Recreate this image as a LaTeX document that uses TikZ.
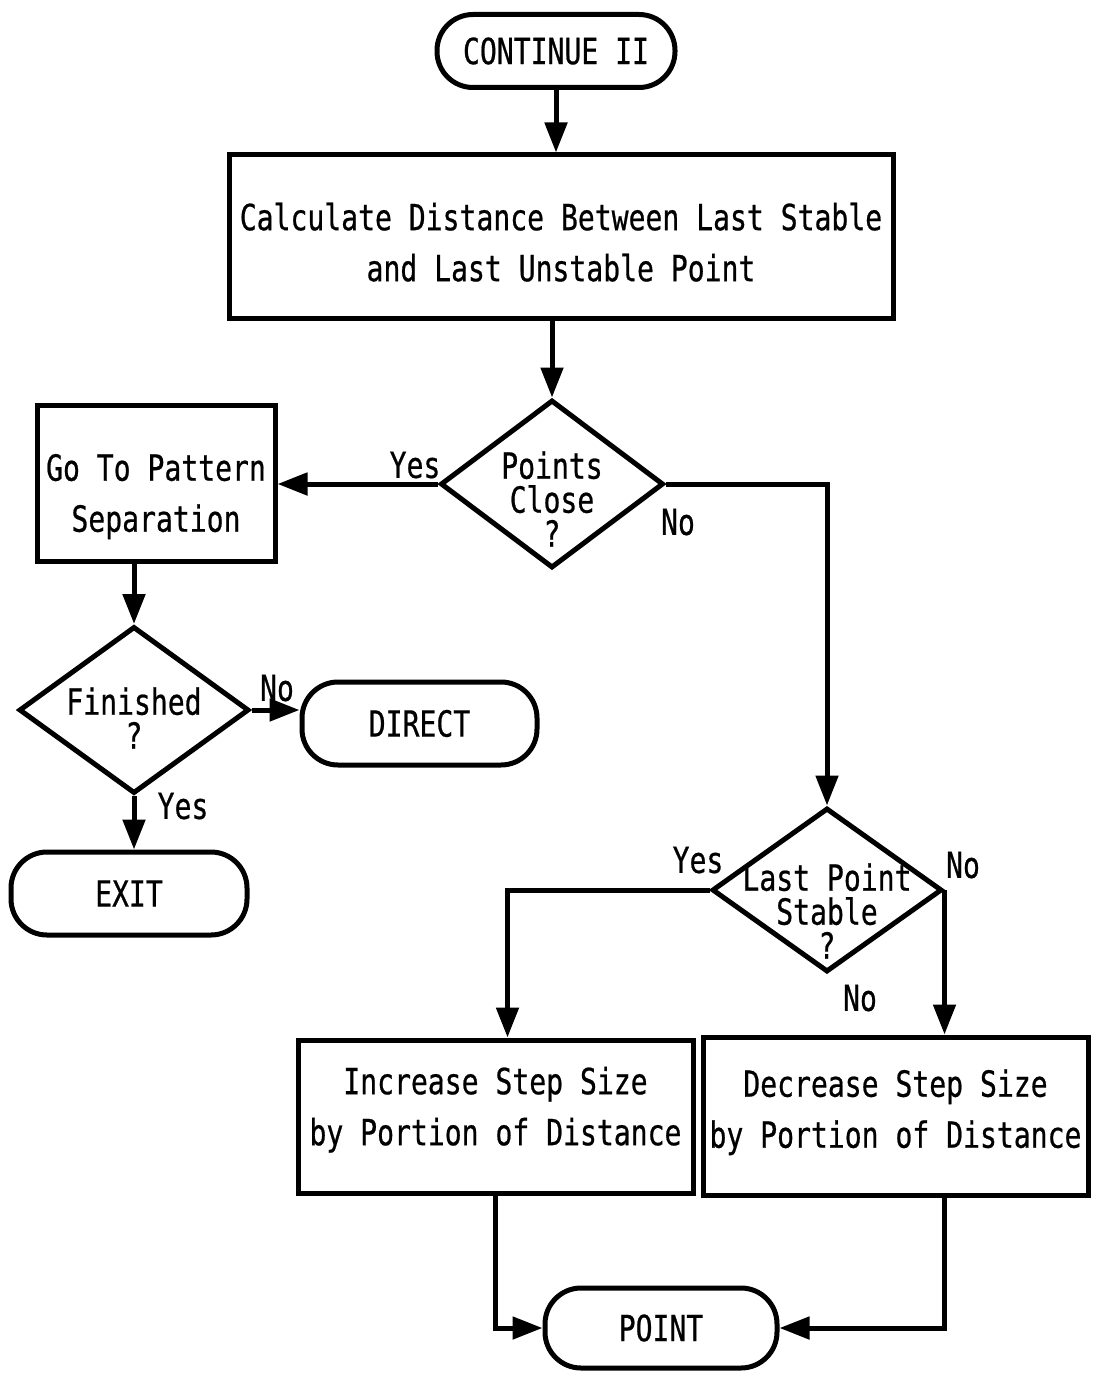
\documentclass[tikz,border=0pt]{standalone}
\usepackage{fontspec}
\setmonofont[FakeStretch=0.78,FakeBold=0.6]{DejaVu Sans Mono}
\usetikzlibrary{shapes.geometric,arrows.meta}

% two centred lines, moved up or down inside a box without changing its size
\newcommand{\boxlines}[3]{\raisebox{#1}[\height][\depth]{\begin{tabular}{@{}c@{}}#2\\#3\end{tabular}}}

\tikzset{
  base/.style={draw, line width=5pt, inner sep=0pt, align=center,
    font=\ttfamily\fontsize{36}{51}\selectfont},
  terminal/.style={base, rounded corners=36pt},
  procbox/.style={base, rectangle},
  decision/.style={base, diamond, aspect=1.35},
  dtext/.style={inner sep=0pt, align=center,
    font=\ttfamily\fontsize{36}{34}\selectfont},
  flow/.style={line width=5pt, -{Triangle[width=22pt,length=30pt]}},
  tag/.style={font=\ttfamily\fontsize{36}{40}\selectfont, inner sep=0pt}
}

\begin{document}
\begin{tikzpicture}[x=1pt,y=1pt]
  \useasboundingbox (0,0) rectangle (1097,-1375);
  \fill[white] (0,0) rectangle (1097,-1375);

  % nodes
  \node[terminal, minimum width=238pt, minimum height=73pt] (cont) at (556,-51) {CONTINUE II};
  \node[procbox, minimum width=664pt, minimum height=163pt] (calc) at (561,-236.5)
    {\boxlines{-9pt}{Calculate Distance Between Last Stable}{and Last Unstable Point}};
  \node[decision, minimum width=223pt, minimum height=168pt,
    label={[dtext, yshift=-15pt]center:{Points\\Close\\?}}] (close) at (552,-484) {};
  \node[procbox, minimum width=238pt, minimum height=156pt] (goto) at (156,-483)
    {\boxlines{-13pt}{Go To Pattern}{Separation}};
  \node[decision, minimum width=230pt, minimum height=167pt,
    label={[dtext, yshift=-8pt]center:{Finished\\?}}] (fin) at (134,-710) {};
  \node[terminal, minimum width=235pt, minimum height=83pt] (direct) at (419.5,-723.5) {DIRECT};
  \node[terminal, minimum width=236pt, minimum height=83pt] (exit) at (129,-893.5) {EXIT};
  \node[decision, minimum width=230pt, minimum height=164pt,
    label={[dtext, yshift=-21pt]center:{Last Point\\Stable\\?}}] (last) at (827,-890) {};
  \node[procbox, minimum width=395pt, minimum height=153pt] (inc) at (495.5,-1116.5)
    {\boxlines{7pt}{Increase Step Size}{by Portion of Distance}};
  \node[procbox, minimum width=385pt, minimum height=158pt] (dec) at (895.5,-1116)
    {\boxlines{4pt}{Decrease Step Size}{by Portion of Distance}};
  \node[terminal, minimum width=232pt, minimum height=80pt] (point) at (661,-1328) {POINT};

  % branch points
  \coordinate (incin) at ([xshift=12pt]inc.north);
  \coordinate (decout) at (dec.south -| last.east);

  % connectors
  \draw[flow] (cont.south) -- (cont.south |- calc.north);
  \draw[flow] (close.north |- calc.south) -- (close.north);
  \draw[flow] (close.west) -- (close.west -| goto.east);
  \draw[flow] (close.east) -| (last.north);
  \draw[flow] (fin.north |- goto.south) -- (fin.north);
  \draw[flow] (fin.east) -- (fin.east -| direct.west);
  \draw[flow] (fin.south) -- (fin.south |- exit.north);
  \draw[flow] (last.west) -| (incin);
  \draw[flow] (last.east) -- (last.east |- dec.north);
  \draw[flow] (inc.south) |- (point.west);
  \draw[flow] (decout) |- (point.east);

  % branch labels
  \node[tag] (l1) at (415,-465) {Yes};
  \node[tag] (l2) at (678,-522) {No};
  \node[tag] (l3) at (277,-688) {No};
  \node[tag] (l4) at (183,-806) {Yes};
  \node[tag] (l5) at (698,-860) {Yes};
  \node[tag] (l6) at (963,-865) {No};
  \node[tag] (l7) at (860,-998) {No};
\end{tikzpicture}
\end{document}
